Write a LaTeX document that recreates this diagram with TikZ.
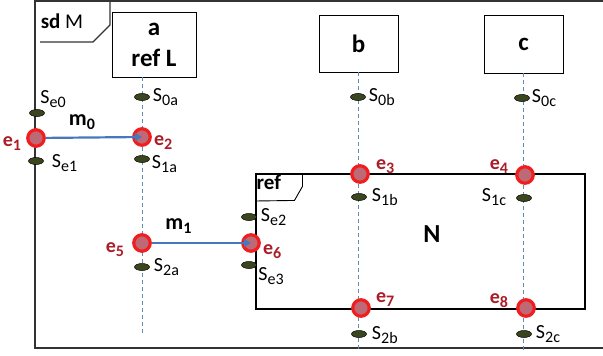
\documentclass[tikz,border=0pt]{standalone}
\usepackage{fontspec}
\setmainfont{Carlito}
\usetikzlibrary{positioning, shapes.geometric, arrows.meta}
\definecolor{evred}{RGB}{240,30,30}
\definecolor{evfill}{RGB}{190,105,118}
\definecolor{evtext}{RGB}{170,30,40}
\definecolor{stgreen}{RGB}{58,70,30}
\definecolor{lineblue}{RGB}{95,140,180}
\definecolor{msgblue}{RGB}{70,120,190}
\newcommand{\lsub}[1]{\raisebox{-4pt}{\fontsize{16}{16}\selectfont #1}}

\begin{document}
\begin{tikzpicture}[x=1pt, y=-1pt,
    lifebox/.style={rectangle, draw=black, line width=0.9pt, fill=white, font=\fontsize{25}{31}\selectfont\bfseries, align=center, inner sep=0pt},
    lifeline/.style={draw=lineblue, line width=0.7pt, dash pattern=on 4pt off 3pt},
    stnode/.style={ellipse, draw=black, fill=stgreen, minimum width=15pt, minimum height=7pt, inner sep=0pt, line width=0.5pt},
    evnode/.style={circle, draw=evred, fill=evfill, line width=3.2pt, minimum size=16.5pt, inner sep=0pt},
    stlabel/.style={font=\fontsize{20}{22}\selectfont, inner sep=1pt},
    evlabel/.style={font=\fontsize{20}{22}\selectfont\bfseries, text=evtext, inner sep=1pt},
    msg/.style={draw=msgblue, line width=2.2pt, -{Triangle[length=7pt,width=8pt]}},
    frameline/.style={draw=black!80, line width=1.1pt}
]
    \useasboundingbox (0,0) rectangle (603,356);

    % frame sd M
    \draw[frameline] (603,1) -- (35,1) -- (35,348) -- (603,348);
    \draw[frameline] (110,1) -- (110,25) -- (93,42) -- (40,42);
    \node[font=\fontsize{21}{23}\selectfont] (sdm) at (62,21) {\textbf{sd} M};

    % lifeline heads
    \node[lifebox, minimum width=84pt, minimum height=65pt] (a) at (154,44.5) {a\\ref L};
    \node[lifebox, minimum width=79pt, minimum height=57pt] (b) at (358.5,43.5) {b};
    \node[lifebox, minimum width=79pt, minimum height=58pt] (c) at (523.5,44) {c};

    \coordinate (aend) at (142,335);
    \coordinate (bend) at (358,352);
    \coordinate (cend) at (523,352);
    \draw[lifeline] (a.south -| aend) -- (aend);
    \draw[lifeline] (b.south -| bend) -- (bend);
    \draw[lifeline] (c.south -| cend) -- (cend);

    % ref N
    \node[rectangle, draw=black, line width=1.1pt, minimum width=329pt, minimum height=135pt] (refN) at (420.5,241.5) {};
    \draw[line width=0.9pt] ([xshift=47pt]refN.north west) -- ++(0,13) -- ++(-8,14) -- (refN.north west |- 0,201);
    \node[font=\fontsize{21}{23}\selectfont\bfseries, anchor=north west, inner sep=1pt] (reftag) at (refN.north west) {ref};
    \node[font=\fontsize{26}{28}\selectfont\bfseries] (nlabel) at (432,234) {N};

    % states
    \node[stnode] (se0) at (37,113) {};
    \node[stnode] (se1) at (36,161) {};
    \node[stnode] (s0a) at (142,97) {};
    \node[stnode] (s1a) at (142,159) {};
    \node[stnode] (s2a) at (142,267) {};
    \node[stnode] (se2) at (249,217) {};
    \node[stnode] (se3) at (249,265) {};
    \node[stnode] (s0b) at (358,97) {};
    \node[stnode] (s1b) at (359,197) {};
    \node[stnode] (s2b) at (359,334) {};
    \node[stnode] (s0c) at (522,98) {};
    \node[stnode] (s1c) at (524,198) {};
    \node[stnode] (s2c) at (524,334) {};

    \node[stlabel, above=0pt of se0, xshift=16pt] (lse0) {S\lsub{e0}};
    \node[stlabel, right=7pt of se1, yshift=-2pt] (lse1) {S\lsub{e1}};
    \node[stlabel, right=2pt of s0a] (ls0a) {S\lsub{0a}};
    \node[stlabel, right=1pt of s1a, yshift=-5pt] (ls1a) {S\lsub{1a}};
    \node[stlabel, right=3pt of s2a] (ls2a) {S\lsub{2a}};
    \node[stlabel, right=3pt of se2] (lse2) {S\lsub{e2}};
    \node[stlabel, below=-2pt of se3, xshift=22pt] (lse3) {S\lsub{e3}};
    \node[stlabel, right=2pt of s0b] (ls0b) {S\lsub{0b}};
    \node[stlabel, right=4pt of s1b] (ls1b) {S\lsub{1b}};
    \node[stlabel, right=4pt of s2b, yshift=-1pt] (ls2b) {S\lsub{2b}};
    \node[stlabel, right=1pt of s0c] (ls0c) {S\lsub{0c}};
    \node[stlabel, left=9pt of s1c, yshift=1pt] (ls1c) {S\lsub{1c}};
    \node[stlabel, right=3pt of s2c] (ls2c) {S\lsub{2c}};

    % events
    \node[evnode] (e1) at (36,138) {};
    \node[evnode] (e2) at (142,137) {};
    \node[evnode] (e3) at (360,174) {};
    \node[evnode] (e4) at (525,175) {};
    \node[evnode] (e5) at (142,243) {};
    \node[evnode] (e6) at (251,243) {};
    \node[evnode] (e7) at (361,308) {};
    \node[evnode] (e8) at (526,308) {};

    \node[evlabel, left=4pt of e1, yshift=-6pt] (le1) {e\lsub{1}};
    \node[evlabel, right=1pt of e2, yshift=-6pt] (le2) {e\lsub{2}};
    \node[evlabel, right=5pt of e3, yshift=7pt] (le3) {e\lsub{3}};
    \node[evlabel, left=6pt of e4, yshift=8pt] (le4) {e\lsub{4}};
    \node[evlabel, left=7pt of e5, yshift=-7pt] (le5) {e\lsub{5}};
    \node[evlabel, right=1pt of e6, yshift=-9pt] (le6) {e\lsub{6}};
    \node[evlabel, right=4pt of e7, yshift=8pt] (le7) {e\lsub{7}};
    \node[evlabel, left=7pt of e8, yshift=7pt] (le8) {e\lsub{8}};

    % messages
    \draw[msg] (e1) -- node[above=3pt, xshift=-12pt, font=\fontsize{22}{24}\selectfont\bfseries, text=black] (m0) {m\lsub{0}} (e2.center);
    \draw[msg] (e5) -- node[above=5pt, xshift=-23pt, font=\fontsize{22}{24}\selectfont\bfseries, text=black] (m1) {m\lsub{1}} (e6.center);

\end{tikzpicture}
\end{document}
